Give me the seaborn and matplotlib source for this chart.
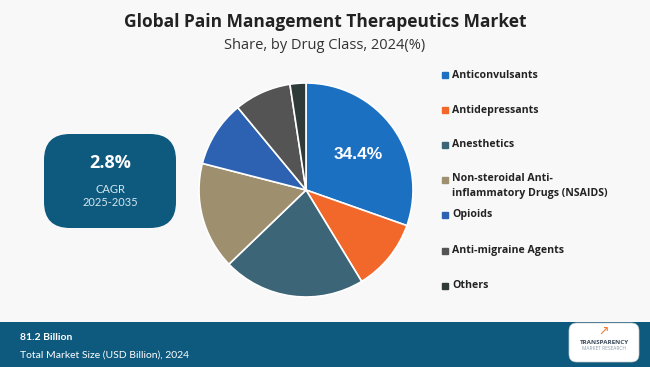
import numpy as np
import pandas as pd
import matplotlib
matplotlib.use("Agg")
import matplotlib.pyplot as plt
from matplotlib.patches import FancyBboxPatch, Rectangle
import seaborn as sns

# data
drug_class = ['Anticonvulsants', 'Antidepressants', 'Anesthetics',
              'Non-steroidal Anti-\ninflammatory Drugs (NSAIDS)', 'Opioids',
              'Anti-migraine Agents', 'Others']
share = [30.4, 10.9, 21.5, 16.2, 10.0, 8.6, 2.4]
top_label = '34.4%'
colors = ['#1b70c2', '#f2682a', '#3c6577', '#9e8f6f', '#2d62b3', '#545454', '#2f3b38']

sns.set_theme(style='white')
plt.rcParams['font.family'] = ['Open Sans', 'DejaVu Sans']

bg = '#f8f8f8'
navy = '#0e5a7e'
fig = plt.figure(figsize=(6.5, 3.67), dpi=100, facecolor=bg)

# pie
ax = fig.add_axes([199 / 650, 1 - 297 / 367, 214 / 650, 214 / 367])
df = pd.DataFrame({'cls': drug_class, 'share': share})
wedges, _ = ax.pie(df['share'], colors=colors, startangle=90, counterclock=False,
                   wedgeprops=dict(edgecolor='white', linewidth=1.2))
ax.set_xlim(-1, 1)
ax.set_ylim(-1, 1)
ax.set_aspect('equal')
ax.text(0.49, 0.33, top_label, color='white', fontsize=12.5, fontweight='bold',
        ha='center', va='center', family=['Liberation Sans', 'DejaVu Sans'])

# titles
fig.text(0.5, 0.94, 'Global Pain Management Therapeutics Market', ha='center', va='center',
         fontsize=12.5, fontweight='bold', color='#222222')
fig.text(0.5, 0.875, 'Share, by Drug Class, 2024(%)', ha='center', va='center',
         fontsize=10.5, color='#333333')

# legend, placed by hand
leg_y = [75, 110, 145, 180, 215, 251, 286]
for lab, c, y in zip(drug_class, colors, leg_y):
    fig.patches.append(Rectangle((442 / 650, 1 - (y + 3) / 367), 6 / 650, 6 / 367,
                                 transform=fig.transFigure, color=c))
    if '\n' in lab:
        fig.text(452 / 650, 1 - (y - 7) / 367, lab, ha='left', va='top',
                 fontsize=7.6, fontweight='bold', color='#222222', linespacing=1.5)
    else:
        fig.text(452 / 650, 1 - y / 367, lab, ha='left', va='center',
                 fontsize=7.6, fontweight='bold', color='#222222')

# CAGR box
box = FancyBboxPatch((44 / 650, 1 - 228 / 367), 132 / 650, 94 / 367,
                     boxstyle='round,pad=0,rounding_size=0.04', transform=fig.transFigure,
                     facecolor=navy, edgecolor='none', mutation_aspect=650 / 367)
fig.patches.append(box)
fig.text(110 / 650, 1 - 163 / 367, '2.8%', ha='center', va='center', fontsize=13,
         fontweight='bold', color='white')
fig.text(110 / 650, 1 - 189 / 367, 'CAGR', ha='center', va='center', fontsize=8,
         color='#d6e6ee', family=['Lato', 'DejaVu Sans'])
fig.text(110 / 650, 1 - 203 / 367, '2025-2035', ha='center', va='center', fontsize=8,
         color='#d6e6ee', family=['Lato', 'DejaVu Sans'])

# bottom band
fig.patches.append(Rectangle((0, 0), 1, 45 / 367, transform=fig.transFigure,
                             facecolor=navy, edgecolor='none'))
fig.text(20 / 650, 1 - 337 / 367, '81.2 Billion', ha='left', va='center', fontsize=7.5,
         fontweight='bold', color='white', family=['Lato', 'DejaVu Sans'])
fig.text(20 / 650, 1 - 355 / 367, 'Total Market Size (USD Billion), 2024', ha='left',
         va='center', fontsize=7.5, color='white', family=['Lato', 'DejaVu Sans'])

# logo box
logo = FancyBboxPatch((569 / 650, 1 - 362 / 367), 70 / 650, 39 / 367,
                      boxstyle='round,pad=0,rounding_size=0.012', transform=fig.transFigure,
                      facecolor='white', edgecolor='#cccccc', linewidth=0.5,
                      mutation_aspect=650 / 367)
fig.patches.append(logo)
fig.text(604 / 650, 1 - 342 / 367, 'TRANSPARENCY', ha='center', va='center', fontsize=4.5,
         fontweight='bold', color='#3a4a5a')
fig.text(604 / 650, 1 - 349 / 367, 'MARKET RESEARCH', ha='center', va='center', fontsize=3.5,
         color='#8a9aaa')
fig.text(604 / 650, 1 - 331 / 367, '\u2197', ha='center', va='center', fontsize=9,
         color='#f07a2a', family=['DejaVu Sans'])

fig.savefig('out.png', dpi=100, facecolor=bg)
